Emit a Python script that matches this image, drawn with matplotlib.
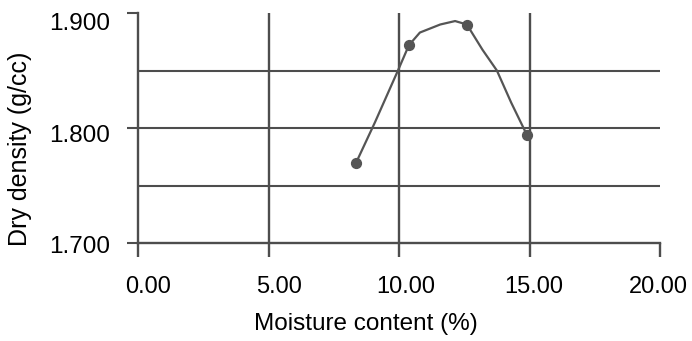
import matplotlib
matplotlib.use("Agg")
import matplotlib.pyplot as plt
from matplotlib.transforms import ScaledTranslation

# measured points
moisture = [8.36, 10.38, 12.6, 14.9]
density = [1.770, 1.872, 1.890, 1.794]

# hand-drawn curve
curve_x = [8.36, 9.08, 9.96, 10.38, 10.8, 11.58, 12.15, 12.6, 13.2, 13.75, 14.3, 14.9]
curve_y = [1.770, 1.805, 1.850, 1.872, 1.883, 1.890, 1.893, 1.890, 1.868, 1.850, 1.822, 1.794]

x_ticks = [0, 5, 10, 15, 20]
x_labels = ["0.00", "5.00", "10.00", "15.00", "20.00"]
y_ticks = [1.7, 1.8, 1.9]
y_labels = ["1.700", "1.800", "1.900"]
y_grid = [1.75, 1.8, 1.85]
x_grid = [5, 10, 15]

plt.rcParams['font.family'] = ['Liberation Sans', 'DejaVu Sans']

W, H = 692, 341
fig = plt.figure(figsize=(W / 100, H / 100), dpi=100)
ax = fig.add_axes([138 / W, 1 - 243 / H, 522 / W, 230 / H])

lc = "#4d4d4d"
for g in y_grid:
    ax.axhline(g, color=lc, lw=1.5, zorder=1)
for g in x_grid:
    ax.axvline(g, color=lc, lw=1.7, zorder=1)

ax.plot(curve_x, curve_y, color="#555555", lw=1.6, zorder=2)
ax.scatter(moisture, density, s=50, color="#555555", zorder=3)

ax.set_xlim(0, 20)
ax.set_ylim(1.7, 1.9)
ax.set_xticks(x_ticks)
ax.set_xticklabels(x_labels, fontsize=17)
ax.set_yticks(y_ticks)
ax.set_yticklabels(y_labels, fontsize=17.5)
ax.tick_params(axis='x', color=lc, length=10, width=1.7, pad=14)
ax.tick_params(axis='y', color=lc, length=8, width=1.5, pad=12)

for s in ["top", "right"]:
    ax.spines[s].set_visible(False)
for s in ["left", "bottom"]:
    ax.spines[s].set_color(lc)
    ax.spines[s].set_linewidth(1.7)

# label offsets (pixels) as drawn in the scanned reference
x_off = [10, 11, 7, 4, -2]
y_off = [-1, -6, -9]
for lab, d in zip(ax.get_xticklabels(), x_off):
    lab.set_transform(lab.get_transform() + ScaledTranslation(d / 100, 0, fig.dpi_scale_trans))
for lab, d in zip(ax.get_yticklabels(), y_off):
    lab.set_transform(lab.get_transform() + ScaledTranslation(0, d / 100, fig.dpi_scale_trans))

fig.text(366 / W, 1 - 324 / H, "Moisture content (%)", fontsize=17.5,
         ha='center', va='center')
fig.text(20 / W, 1 - 149 / H, "Dry density (g/cc)", fontsize=18,
         ha='center', va='center', rotation=90)

fig.savefig("out.png", dpi=100)
